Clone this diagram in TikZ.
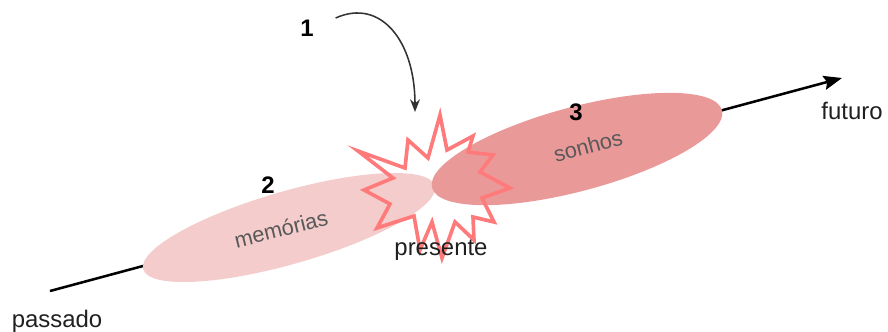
\documentclass[tikz,border=0pt]{standalone}
\usepackage{fontspec}
\setmainfont{Liberation Sans}
\usetikzlibrary{arrows.meta}
\definecolor{memfill}{HTML}{F4CCCC}
\definecolor{sonfill}{HTML}{EA9999}
\definecolor{burstline}{HTML}{FF7B7B}
\definecolor{soft}{HTML}{595959}
\tikzset{
	lbl/.style={font=\fontsize{17}{20}\selectfont, text=black!88},
	num/.style={font=\fontsize{17}{20}\selectfont\bfseries},
	inlbl/.style={font=\fontsize{15.5}{18}\selectfont, text=soft},
}

\begin{document}
\begin{tikzpicture}[x=0.025cm, y=-0.025cm]
		\useasboundingbox (0,0) rectangle (888,331);
		
		\coordinate (past) at (50,291);
		\coordinate (fut) at (842,78);
		\draw[line width=1.8pt, -{Stealth[length=13pt,width=10pt,inset=2pt]}] (past) -- (fut);
		
		\fill[memfill, rotate around={16:(289,227.5)}] (289,227.5) ellipse [x radius=3.79cm, y radius=0.91cm];
		\fill[sonfill, rotate around={15:(577,149)}] (577,149) ellipse [x radius=3.75cm, y radius=1.05cm];
		
		\node[inlbl, rotate=14] (memtxt) at (281,229) {memórias};
		\node[inlbl, rotate=15] (sontxt) at (588,146) {sonhos};
		
		\draw[burstline, line width=2.6pt, line join=miter] (440,115) -- (447,150) -- (473,136) -- (468,152) -- (493,155) -- (480,172) -- (510,188) -- (482,198) -- (494,222) -- (473,217) -- (474,240) -- (455,222) -- (442,258) -- (432,222) -- (420,250) -- (414,216) -- (377,228) -- (390,204) -- (364,190) -- (393,178) -- (358,151) -- (405,168) -- (408,140) -- (428,158) -- cycle;
		\coordinate (burst) at (415,112);
		
		\node[num] (n1) at (307,28) {1};
		\node[num] (n2) at (268,185) {2};
		\node[num] (n3) at (576,112) {3};
		
		\draw[line width=1.1pt, black!80, -{Stealth[length=9pt,width=7pt]}] ([shift={(17,-10)}]n1.east) .. controls (380,-2) and (415,40) .. (burst);
		
		\node[lbl] (pres) at (441,250) {presente};
		\node[lbl] (futuro) at (852,111) {futuro};
		\node[lbl] (passado) at (57,321) {passado};
	\end{tikzpicture}
\end{document}
